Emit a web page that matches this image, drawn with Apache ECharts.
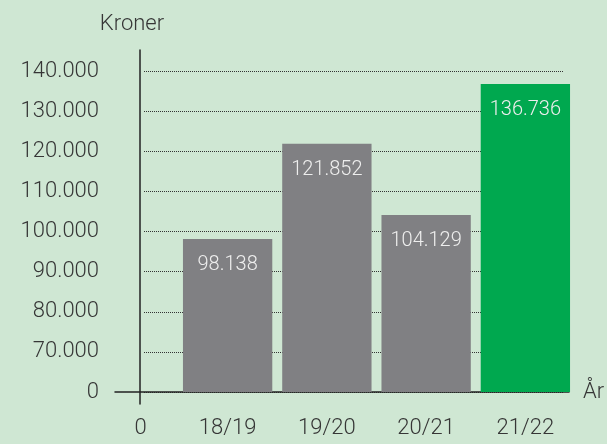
<!DOCTYPE html>
<html>
<head>
<meta charset="utf-8">
<script src="https://cdn.jsdelivr.net/npm/echarts@6/dist/echarts.min.js"></script>
<style>
html,body{margin:0;padding:0;background:#cfe7d3;}
#c{width:607px;height:444px;}
</style>
</head>
<body>
<div id="c"></div>
<script>
const categories = ['18/19', '19/20', '20/21', '21/22'];
const values = [98138, 121852, 104129, 136736];
const barColors = ['#808083', '#808083', '#808083', '#00a84f'];
const yMin = 60000, yMax = 140000, yStep = 10000;
const zeroLabel = '0';
const yName = 'Kroner';
const xName = 'År';

const FONT = 'Roboto';
const TXT = '#363636';
function fmt(v) {
  if (v === yMin) return zeroLabel;
  return String(v).replace(/\B(?=(\d{3})+(?!\d))/g, '.');
}

const chart = echarts.init(document.getElementById('c'), null, {renderer: 'canvas'});
chart.setOption({
  backgroundColor: '#cfe7d3',
  animation: false,
  textStyle: {fontFamily: FONT, fontWeight: 300},
  grid: [
    {left: 178, right: 32, top: 71, bottom: 52},   // data
    {left: 144, right: 44, top: 71, bottom: 52},   // split lines + y labels
    {left: 140, width: 1, top: 50, bottom: 39},    // vertical axis line
    {left: 115, right: 38, top: 391, height: 1}    // horizontal axis line
  ],
  xAxis: [
    {gridIndex: 0, type: 'category', data: categories,
     axisLine: {show: false}, axisTick: {show: false},
     axisLabel: {color: TXT, fontSize: 22, fontFamily: FONT, fontWeight: 300, margin: 25}},
    {gridIndex: 1, type: 'value', show: false},
    {gridIndex: 2, type: 'value', min: 0, max: 1, axisLine: {show: false}, axisTick: {show: false},
     axisLabel: {show: false}, splitLine: {show: false},
     name: zeroLabel, nameLocation: 'middle', nameGap: 13,
     nameTextStyle: {color: TXT, fontSize: 22, fontFamily: FONT, fontWeight: 300, verticalAlign: 'top'}},
    {gridIndex: 3, type: 'value', min: 0, max: 1,
     axisLine: {show: true, lineStyle: {color: '#222', width: 1.5}},
     axisTick: {show: false}, axisLabel: {show: false}, splitLine: {show: false},
     name: xName, nameLocation: 'end', nameGap: 14,
     nameTextStyle: {color: TXT, fontSize: 22, fontFamily: FONT, fontWeight: 300, verticalAlign: 'middle', padding: [2, 0, 0, 0]}}
  ],
  yAxis: [
    {gridIndex: 0, type: 'value', min: yMin, max: yMax, interval: yStep, show: false},
    {gridIndex: 1, type: 'value', min: yMin, max: yMax, interval: yStep,
     axisLine: {show: false}, axisTick: {show: false},
     axisLabel: {color: TXT, fontSize: 22, fontFamily: FONT, fontWeight: 300, margin: 45, formatter: fmt},
     splitLine: {show: true, lineStyle: {color: '#333', type: [1, 1], width: 1}}},
    {gridIndex: 2, type: 'value', min: 0, max: 1,
     axisLine: {show: true, lineStyle: {color: '#222', width: 1.5}},
     axisTick: {show: false}, axisLabel: {show: false}, splitLine: {show: false},
     name: yName, nameLocation: 'end', nameGap: 15,
     nameTextStyle: {color: TXT, fontSize: 22, fontFamily: FONT, fontWeight: 300, padding: [0, 16, 0, 0]}},
    {gridIndex: 3, type: 'value', min: 0, max: 1, show: false}
  ],
  series: [{
    type: 'bar',
    xAxisIndex: 0, yAxisIndex: 0,
    data: values.map((v, i) => ({value: v, itemStyle: {color: barColors[i]}})),
    barCategoryGap: '10%',
    label: {
      show: true, position: 'insideTop', distance: 16,
      color: '#eeeeee', fontSize: 20, fontFamily: FONT, fontWeight: 300,
      formatter: p => fmt(p.value)
    },
    z: 3
  }]
});
</script>
</body>
</html>
